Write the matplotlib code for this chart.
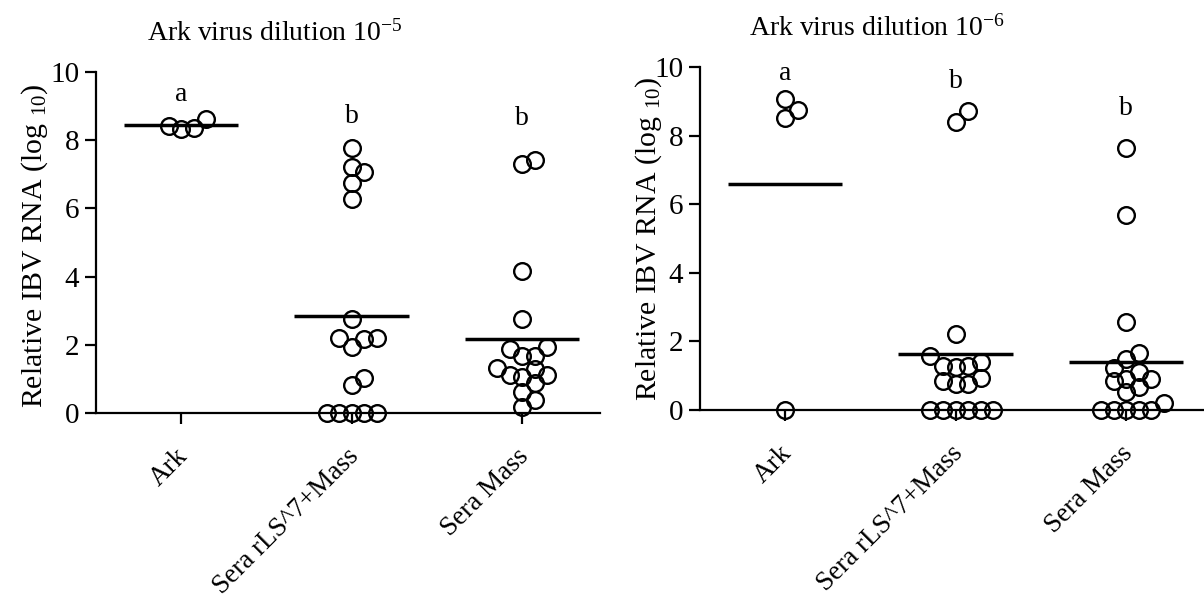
import matplotlib
matplotlib.use("Agg")
import matplotlib.pyplot as plt
import matplotlib.transforms as mtransforms
import numpy as np

plt.rcParams['font.family'] = ['Liberation Serif', 'DejaVu Serif']
plt.rcParams['mathtext.fontset'] = 'custom'
plt.rcParams['mathtext.rm'] = 'Liberation Serif'
plt.rcParams['mathtext.it'] = 'Liberation Serif:italic'

# ---------------- data ----------------
categories = ["Ark", "Sera rLS^7+Mass", "Sera Mass"]

left_ark = [8.42, 8.33, 8.62, 8.36]
left_rls = [7.77, 7.21, 7.07, 6.74, 6.28, 2.76, 2.20, 1.94, 2.20, 2.17,
            1.03, 0.82, 0, 0, 0, 0, 0]
left_mass = [7.42, 7.30, 4.16, 2.76, 1.88, 1.67, 1.94, 1.67, 1.32, 1.06,
             1.11, 1.29, 1.11, 0.88, 0.62, 0.38, 0.18]

right_ark = [8.75, 8.51, 9.07, 0]
right_rls = [8.72, 8.40, 2.22, 1.57, 1.28, 1.40, 1.25, 1.28, 0.93, 0.76,
             0.76, 0.85, 0, 0, 0, 0, 0, 0]
right_mass = [7.64, 5.69, 2.57, 1.66, 1.49, 1.22, 1.11, 0.85, 0.90, 0.90,
              0.67, 0.52, 0.20, 0, 0, 0, 0, 0]

left_letters = ["a", "b", "b"]
right_letters = ["a", "b", "b"]
left_letter_y = [9.15, 8.50, 8.45]
right_letter_y = [9.62, 9.39, 8.60]

left_title = "Ark virus dilution 10$^{-5}$"
right_title = "Ark virus dilution 10$^{-6}$"
ylabel = "Relative IBV RNA (log $_{10}$)"
yticks = [0, 2, 4, 6, 8, 10]

# ---------------- figure ----------------
W, H = 1204, 600
fig = plt.figure(figsize=(W / 100, H / 100), dpi=100)

ax1 = fig.add_axes([96 / W, 1 - 413 / H, 504 / W, 341 / H])
ax2 = fig.add_axes([700 / W, 1 - 410 / H, 504 / W, 343 / H])

STEP = 12.5   # px horizontal step of the swarm
DMIN = 12.5   # px min distance between centres


def swarm_offsets(ax, xc, values):
    """Simple beeswarm layout in pixel space; returns x data positions."""
    vals = np.asarray(values, dtype=float)
    order = np.argsort(vals, kind="stable")
    placed = []
    xs = np.zeros(len(vals))
    inv = ax.transData.inverted()
    cand = [0]
    for n in range(1, 30):
        cand += [n, -n]
    for i in order:
        px, py = ax.transData.transform((xc, vals[i]))
        cx = px
        for c in cand:
            cx = px + c * STEP
            if all(np.hypot(cx - qx, py - qy) >= DMIN - 1e-6
                   for (qx, qy) in placed):
                break
        placed.append((cx, py))
        xs[i] = inv.transform((cx, py))[0]
    return xs


def setup(ax, groups, letters, letter_y):
    ax.set_xlim(-85 / 170.5, -85 / 170.5 + 504 / 170.5)
    ax.set_ylim(0, 10)
    for s in ["top", "right"]:
        ax.spines[s].set_visible(False)
    for s in ["left", "bottom"]:
        ax.spines[s].set_linewidth(1.6)
    ax.set_yticks(yticks)
    ax.set_xticks(range(len(categories)))
    ax.tick_params(axis="both", width=1.6, length=8, colors="black")
    ax.tick_params(axis="y", labelsize=21, pad=4)
    ax.tick_params(axis="x", labelsize=19.5, pad=14)
    ax.set_xticklabels(categories, rotation=45, ha="right", va="top")
    off = mtransforms.ScaledTranslation(12 / 100, 0, fig.dpi_scale_trans)
    for lab in ax.get_xticklabels():
        lab.set_transform(lab.get_transform() + off)

    for xc, vals in enumerate(groups):
        xs = swarm_offsets(ax, xc, vals)
        ax.plot(xs, vals, linestyle="none", marker="o", markersize=12,
                markerfacecolor="none", markeredgecolor="black",
                markeredgewidth=1.7, clip_on=False, zorder=3)
        m = np.mean(vals)
        ax.plot([xc - 0.335, xc + 0.335], [m, m], color="black",
                linewidth=2.5, solid_capstyle="butt", zorder=4)
    for xc, (t, y) in enumerate(zip(letters, letter_y)):
        ax.text(xc, y, t, ha="center", va="baseline", fontsize=20)

    ax.set_ylabel(ylabel, fontsize=21.5)


setup(ax1, [left_ark, left_rls, left_mass], left_letters, left_letter_y)
setup(ax2, [right_ark, right_rls, right_mass], right_letters, right_letter_y)
ax1.yaxis.set_label_coords((50 - 96) / 504, 0.49)
ax2.yaxis.set_label_coords((664 - 700) / 504, 0.50)

fig.text(275 / W, 1 - 33 / H, left_title, ha="center", va="center", fontsize=20)
fig.text(877 / W, 1 - 28 / H, right_title, ha="center", va="center", fontsize=20)

fig.savefig("out.png", dpi=100, facecolor="white")
